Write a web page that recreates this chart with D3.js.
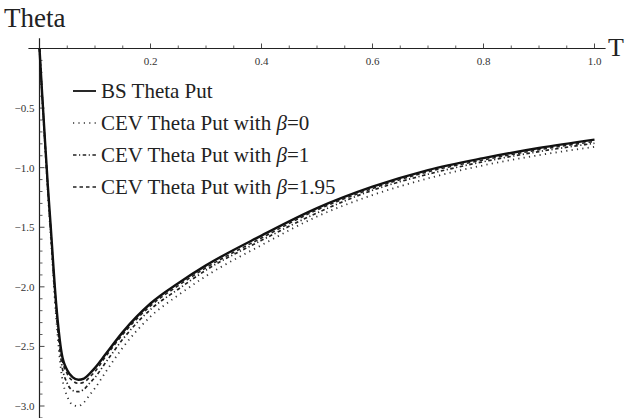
<!DOCTYPE html>
<html>
<head>
<meta charset="utf-8">
<script src="https://cdnjs.cloudflare.com/ajax/libs/d3/7.8.5/d3.min.js"></script>
<style>
  body { margin: 0; background: #fff; }
  text { font-family: "Liberation Serif", "Times New Roman", serif; fill: #222; }
  .tick-label { font-size: 11px; fill: #333; }
  .legend { font-size: 21px; }
</style>
</head>
<body>
<div id="chart"></div>
<script>
// maturity T
var times = [0, 0.005, 0.01, 0.015, 0.02, 0.03, 0.04, 0.05, 0.06, 0.07, 0.08, 0.09, 0.1, 0.12, 0.15, 0.2, 0.25, 0.3, 0.4, 0.5, 0.6, 0.7, 0.8, 0.9, 1.0];

// theta values
var bsTheta    = [0, -0.40, -0.78, -1.15, -1.48, -2.14, -2.56, -2.70, -2.76, -2.78, -2.77, -2.73, -2.68, -2.56, -2.38, -2.14, -1.97, -1.82, -1.57, -1.34, -1.16, -1.02, -0.92, -0.835, -0.765];
var cevBeta0   = [0, -0.42, -0.82, -1.21, -1.56, -2.26, -2.74, -2.92, -2.99, -3.00, -2.97, -2.91, -2.85, -2.71, -2.51, -2.25, -2.07, -1.91, -1.65, -1.41, -1.23, -1.09, -0.98, -0.895, -0.825];
var cevBeta1   = [0, -0.41, -0.80, -1.18, -1.52, -2.20, -2.65, -2.81, -2.87, -2.88, -2.86, -2.81, -2.76, -2.63, -2.44, -2.19, -2.02, -1.86, -1.61, -1.38, -1.19, -1.055, -0.95, -0.865, -0.795];
var cevBeta195 = [0, -0.40, -0.79, -1.16, -1.50, -2.16, -2.59, -2.73, -2.79, -2.81, -2.80, -2.76, -2.71, -2.58, -2.40, -2.16, -1.99, -1.84, -1.59, -1.355, -1.175, -1.035, -0.935, -0.85, -0.78];

var seriesNames = ["BS Theta Put", "CEV Theta Put with ", "CEV Theta Put with ", "CEV Theta Put with "];
var betaLabels = ["", "0", "1", "1.95"];

var xMajor = [0.2, 0.4, 0.6, 0.8, 1.0];
var yMajor = [-0.5, -1.0, -1.5, -2.0, -2.5, -3.0];

var width = 629, height = 418;

var svg = d3.select("#chart").append("svg")
    .attr("width", width)
    .attr("height", height);

var x = d3.scaleLinear().domain([0, 1]).range([39.5, 594.5]);
var y = d3.scaleLinear().domain([0, -3]).range([48.5, 406]);

// axes lines
svg.append("line")
    .attr("x1", x(-0.02)).attr("x2", x(1.02))
    .attr("y1", y(0)).attr("y2", y(0))
    .attr("stroke", "#222").attr("stroke-width", 1.2);
svg.append("line")
    .attr("x1", x(0)).attr("x2", x(0))
    .attr("y1", y(0.085)).attr("y2", y(-3.12))
    .attr("stroke", "#222").attr("stroke-width", 1.2);

// x ticks (pointing up)
var xMinor = d3.range(0.05, 1.001, 0.05).filter(function(v) {
    return Math.abs(v * 5 - Math.round(v * 5)) > 1e-6;
});
svg.selectAll(".xminor").data(xMinor).enter().append("line")
    .attr("x1", function(d) { return x(d); }).attr("x2", function(d) { return x(d); })
    .attr("y1", y(0)).attr("y2", y(0) - 3)
    .attr("stroke", "#333").attr("stroke-width", 0.8);
svg.selectAll(".xmajor").data(xMajor).enter().append("line")
    .attr("x1", function(d) { return x(d); }).attr("x2", function(d) { return x(d); })
    .attr("y1", y(0)).attr("y2", y(0) - 5)
    .attr("stroke", "#333").attr("stroke-width", 0.9);
svg.selectAll(".xlab").data(xMajor).enter().append("text")
    .attr("class", "tick-label")
    .attr("x", function(d) { return x(d); })
    .attr("y", y(0) + 16)
    .attr("text-anchor", "middle")
    .text(function(d) { return d3.format(".1f")(d); });

// y ticks (pointing right)
var yMinor = d3.range(-0.1, -3.11, -0.1).filter(function(v) {
    return Math.abs(v * 2 - Math.round(v * 2)) > 1e-6;
});
svg.selectAll(".yminor").data(yMinor).enter().append("line")
    .attr("x1", x(0)).attr("x2", x(0) + 3)
    .attr("y1", function(d) { return y(d); }).attr("y2", function(d) { return y(d); })
    .attr("stroke", "#333").attr("stroke-width", 0.8);
svg.selectAll(".ymajor").data(yMajor).enter().append("line")
    .attr("x1", x(0)).attr("x2", x(0) + 5)
    .attr("y1", function(d) { return y(d); }).attr("y2", function(d) { return y(d); })
    .attr("stroke", "#333").attr("stroke-width", 0.9);
svg.selectAll(".ylab").data(yMajor).enter().append("text")
    .attr("class", "tick-label")
    .attr("x", x(0) - 5)
    .attr("y", function(d) { return y(d) + 4; })
    .attr("text-anchor", "end")
    .text(function(d) { return "\u2212" + d3.format(".1f")(-d); });

// axis titles
svg.append("text")
    .attr("x", 4).attr("y", 27)
    .style("font-size", "27px")
    .text("Theta");
svg.append("text")
    .attr("x", 608).attr("y", 56)
    .style("font-size", "26px")
    .text("T");

// curves
var series = [
    { values: bsTheta,    dash: null,              width: 2.4, color: "#111" },
    { values: cevBeta0,   dash: "1.2,4.2",         width: 1.8, color: "#333" },
    { values: cevBeta1,   dash: "3.5,2.5,1.2,2.5", width: 1.7, color: "#222" },
    { values: cevBeta195, dash: "3.5,3",           width: 1.6, color: "#222" }
];

var line = d3.line()
    .x(function(d) { return x(d[0]); })
    .y(function(d) { return y(d[1]); })
    .curve(d3.curveMonotoneX);

series.slice().reverse().forEach(function(s) {
    var pts = times.map(function(t, i) { return [t, s.values[i]]; });
    svg.append("path")
        .datum(pts)
        .attr("fill", "none")
        .attr("stroke", s.color)
        .attr("stroke-width", s.width)
        .attr("stroke-dasharray", s.dash)
        .attr("d", line);
});

// legend
var legendY = [91, 123, 155, 187];
series.forEach(function(s, i) {
    svg.append("line")
        .attr("x1", 73).attr("x2", 96)
        .attr("y1", legendY[i]).attr("y2", legendY[i])
        .attr("stroke", s.color)
        .attr("stroke-width", i === 0 ? 1.8 : 1.5)
        .attr("stroke-dasharray", s.dash);
    var t = svg.append("text")
        .attr("class", "legend")
        .attr("x", 101)
        .attr("y", legendY[i] + 7);
    t.append("tspan").text(seriesNames[i]);
    if (betaLabels[i]) {
        t.append("tspan").style("font-style", "italic").text("\u03b2");
        t.append("tspan").text("=" + betaLabels[i]);
    }
});
</script>
</body>
</html>
